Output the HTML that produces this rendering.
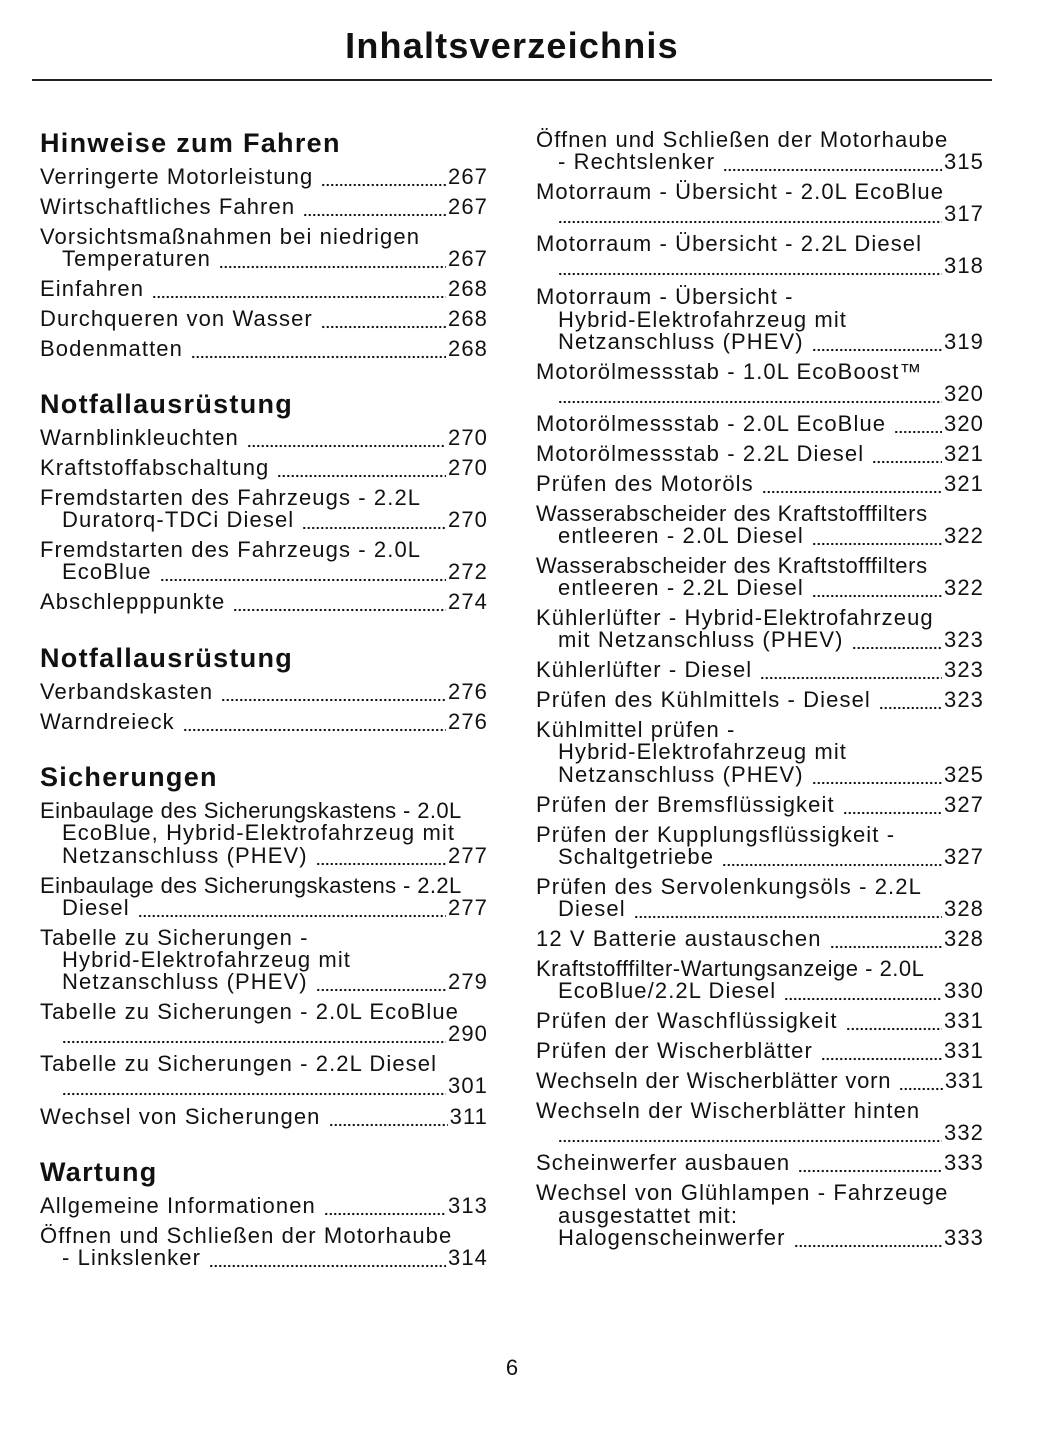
<!DOCTYPE html>
<html><head><meta charset="utf-8"><style>
body{margin:0;width:1056px;height:1449px;background:#fff;position:relative;font-family:"Liberation Sans",sans-serif;color:#111;overflow:hidden}
.t{position:absolute;left:0;width:1024px;text-align:center;top:25px;font-size:36px;font-weight:bold;letter-spacing:1.2px}
.hr{position:absolute;left:32px;width:960px;top:79px;height:2px;background:#222}
.h{position:absolute;font-size:27px;font-weight:bold;height:32px;line-height:32px;white-space:nowrap;letter-spacing:1.3px}
.r{position:absolute;height:26px;line-height:26px;font-size:22px;display:flex;white-space:nowrap;letter-spacing:1.1px}
.L{left:40px;width:448px}.Li{left:62px;width:426px}
.R{left:536px;width:448px}.Ri{left:558px;width:426px}
.d{flex:1;margin:0 2px 0 8px;background-image:radial-gradient(circle,#111 1px,transparent 1.3px);background-size:4.5px 4px;background-repeat:repeat-x;background-position:0 19px}
.n{flex:1;margin:0 2px 0 0}
.pn{position:absolute;left:0;width:1024px;text-align:center;top:1355px;font-size:22px}
</style></head><body>
<div class="t">Inhaltsverzeichnis</div>
<div class="hr"></div>

<div class="h" style="left:40px;top:127px">Hinweise zum Fahren</div>
<div class="r L" style="top:164px">Verringerte Motorleistung<span class="d"></span>267</div>
<div class="r L" style="top:194px">Wirtschaftliches Fahren<span class="d"></span>267</div>
<div class="r L" style="top:224px">Vorsichtsmaßnahmen bei niedrigen</div>
<div class="r Li" style="top:246px">Temperaturen<span class="d"></span>267</div>
<div class="r L" style="top:276px">Einfahren<span class="d"></span>268</div>
<div class="r L" style="top:306px">Durchqueren von Wasser<span class="d"></span>268</div>
<div class="r L" style="top:336px">Bodenmatten<span class="d"></span>268</div>

<div class="h" style="left:40px;top:388px">Notfallausrüstung</div>
<div class="r L" style="top:425px">Warnblinkleuchten<span class="d"></span>270</div>
<div class="r L" style="top:455px">Kraftstoffabschaltung<span class="d"></span>270</div>
<div class="r L" style="top:485px">Fremdstarten des Fahrzeugs - 2.2L</div>
<div class="r Li" style="top:507px">Duratorq-TDCi Diesel<span class="d"></span>270</div>
<div class="r L" style="top:537px">Fremdstarten des Fahrzeugs - 2.0L</div>
<div class="r Li" style="top:559px">EcoBlue<span class="d"></span>272</div>
<div class="r L" style="top:589px">Abschlepppunkte<span class="d"></span>274</div>

<div class="h" style="left:40px;top:642px">Notfallausrüstung</div>
<div class="r L" style="top:679px">Verbandskasten<span class="d"></span>276</div>
<div class="r L" style="top:709px">Warndreieck<span class="d"></span>276</div>

<div class="h" style="left:40px;top:761px">Sicherungen</div>
<div class="r L" style="top:798px;letter-spacing:0.4px">Einbaulage des Sicherungskastens - 2.0L</div>
<div class="r Li" style="top:820px">EcoBlue, Hybrid-Elektrofahrzeug mit</div>
<div class="r Li" style="top:843px">Netzanschluss (PHEV)<span class="d"></span>277</div>
<div class="r L" style="top:873px;letter-spacing:0.4px">Einbaulage des Sicherungskastens - 2.2L</div>
<div class="r Li" style="top:895px">Diesel<span class="d"></span>277</div>
<div class="r L" style="top:925px">Tabelle zu Sicherungen -</div>
<div class="r Li" style="top:947px">Hybrid-Elektrofahrzeug mit</div>
<div class="r Li" style="top:969px">Netzanschluss (PHEV)<span class="d"></span>279</div>
<div class="r L" style="top:999px">Tabelle zu Sicherungen - 2.0L EcoBlue</div>
<div class="r Li" style="top:1021px"><span class="d n"></span>290</div>
<div class="r L" style="top:1051px">Tabelle zu Sicherungen - 2.2L Diesel</div>
<div class="r Li" style="top:1073px"><span class="d n"></span>301</div>
<div class="r L" style="top:1104px">Wechsel von Sicherungen<span class="d"></span>311</div>

<div class="h" style="left:40px;top:1156px">Wartung</div>
<div class="r L" style="top:1193px">Allgemeine Informationen<span class="d"></span>313</div>
<div class="r L" style="top:1223px">Öffnen und Schließen der Motorhaube</div>
<div class="r Li" style="top:1245px">- Linkslenker<span class="d"></span>314</div>

<div class="r R" style="top:127px">Öffnen und Schließen der Motorhaube</div>
<div class="r Ri" style="top:149px">- Rechtslenker<span class="d"></span>315</div>
<div class="r R" style="top:179px">Motorraum - Übersicht - 2.0L EcoBlue</div>
<div class="r Ri" style="top:201px"><span class="d n"></span>317</div>
<div class="r R" style="top:231px">Motorraum - Übersicht - 2.2L Diesel</div>
<div class="r Ri" style="top:253px"><span class="d n"></span>318</div>
<div class="r R" style="top:284px">Motorraum - Übersicht -</div>
<div class="r Ri" style="top:307px">Hybrid-Elektrofahrzeug mit</div>
<div class="r Ri" style="top:329px">Netzanschluss (PHEV)<span class="d"></span>319</div>
<div class="r R" style="top:359px">Motorölmessstab - 1.0L EcoBoost™</div>
<div class="r Ri" style="top:381px"><span class="d n"></span>320</div>
<div class="r R" style="top:411px">Motorölmessstab - 2.0L EcoBlue<span class="d"></span>320</div>
<div class="r R" style="top:441px">Motorölmessstab - 2.2L Diesel<span class="d"></span>321</div>
<div class="r R" style="top:471px">Prüfen des Motoröls<span class="d"></span>321</div>
<div class="r R" style="top:501px;letter-spacing:0.6px">Wasserabscheider des Kraftstofffilters</div>
<div class="r Ri" style="top:523px">entleeren - 2.0L Diesel<span class="d"></span>322</div>
<div class="r R" style="top:553px;letter-spacing:0.6px">Wasserabscheider des Kraftstofffilters</div>
<div class="r Ri" style="top:575px">entleeren - 2.2L Diesel<span class="d"></span>322</div>
<div class="r R" style="top:605px">Kühlerlüfter - Hybrid-Elektrofahrzeug</div>
<div class="r Ri" style="top:627px">mit Netzanschluss (PHEV)<span class="d"></span>323</div>
<div class="r R" style="top:657px">Kühlerlüfter - Diesel<span class="d"></span>323</div>
<div class="r R" style="top:687px">Prüfen des Kühlmittels - Diesel<span class="d"></span>323</div>
<div class="r R" style="top:717px">Kühlmittel prüfen -</div>
<div class="r Ri" style="top:739px">Hybrid-Elektrofahrzeug mit</div>
<div class="r Ri" style="top:762px">Netzanschluss (PHEV)<span class="d"></span>325</div>
<div class="r R" style="top:792px">Prüfen der Bremsflüssigkeit<span class="d"></span>327</div>
<div class="r R" style="top:822px">Prüfen der Kupplungsflüssigkeit -</div>
<div class="r Ri" style="top:844px">Schaltgetriebe<span class="d"></span>327</div>
<div class="r R" style="top:874px">Prüfen des Servolenkungsöls - 2.2L</div>
<div class="r Ri" style="top:896px">Diesel<span class="d"></span>328</div>
<div class="r R" style="top:926px">12 V Batterie austauschen<span class="d"></span>328</div>
<div class="r R" style="top:956px;letter-spacing:0.5px">Kraftstofffilter-Wartungsanzeige - 2.0L</div>
<div class="r Ri" style="top:978px">EcoBlue/2.2L Diesel<span class="d"></span>330</div>
<div class="r R" style="top:1008px">Prüfen der Waschflüssigkeit<span class="d"></span>331</div>
<div class="r R" style="top:1038px">Prüfen der Wischerblätter<span class="d"></span>331</div>
<div class="r R" style="top:1068px;letter-spacing:0.8px">Wechseln der Wischerblätter vorn<span class="d"></span>331</div>
<div class="r R" style="top:1098px">Wechseln der Wischerblätter hinten</div>
<div class="r Ri" style="top:1120px"><span class="d n"></span>332</div>
<div class="r R" style="top:1150px">Scheinwerfer ausbauen<span class="d"></span>333</div>
<div class="r R" style="top:1180px">Wechsel von Glühlampen - Fahrzeuge</div>
<div class="r Ri" style="top:1203px">ausgestattet mit:</div>
<div class="r Ri" style="top:1225px">Halogenscheinwerfer<span class="d"></span>333</div>

<div class="pn">6</div>
</body></html>
